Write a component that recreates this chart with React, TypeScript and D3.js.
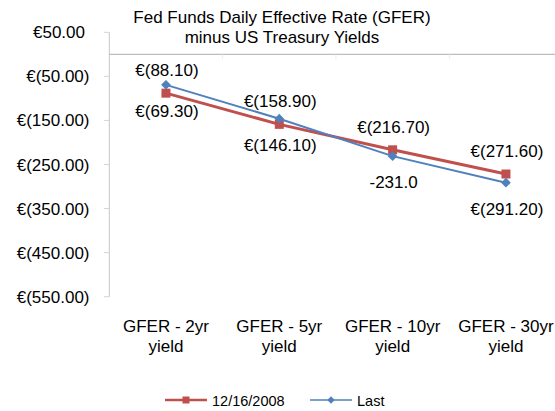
import React, { useRef, useEffect } from "react";
import * as d3 from "d3";

// Data
const categories = ["GFER - 2yr yield", "GFER - 5yr yield", "GFER - 10yr yield", "GFER - 30yr yield"];
const seriesNames = ["12/16/2008", "Last"];
const values1216 = [-88.1, -158.9, -216.7, -271.6];
const valuesLast = [-69.3, -146.1, -231.0, -291.2];
// the 10yr "Last" label uses a plain number format in the original
const lastPlainFormat = [false, false, true, false];
const yTicks = [50, -50, -150, -250, -350, -450, -550];
const titleLines = ["Fed Funds Daily Effective Rate (GFER)", "minus US Treasury Yields"];

const RED = "#c0504d";
const BLUE = "#4f81bd";
const FONT = "'Liberation Sans', Arial, sans-serif";

function acct(v: number) {
  return v >= 0 ? "€" + v.toFixed(2) : "€(" + Math.abs(v).toFixed(2) + ")";
}

function GferChart({ width, height }: { width: number; height: number }) {
  const svgRef = useRef<SVGSVGElement | null>(null);

  useEffect(() => {
    const svg = d3.select(svgRef.current);
    svg.selectAll("*").remove();

    const x = d3.scaleBand().domain(categories).range([109.3, 562.6]).padding(0);
    const y = d3.scaleLinear().domain([-550, 50]).range([296.7, 32.3]);
    const cx = (c: string) => (x(c) as number) + x.bandwidth() / 2;

    // Title
    svg
      .append("text")
      .attr("x", 282)
      .attr("font-family", FONT)
      .attr("font-size", 17)
      .attr("fill", "#000")
      .attr("text-anchor", "middle")
      .selectAll("tspan")
      .data(titleLines)
      .enter()
      .append("tspan")
      .attr("x", 282)
      .attr("y", (d, i) => 22.5 + i * 20)
      .text((d) => d);

    // Y axis
    const yAxis = svg.append("g");
    yAxis
      .append("line")
      .attr("x1", 109.3)
      .attr("x2", 109.3)
      .attr("y1", y(50))
      .attr("y2", y(-550))
      .attr("stroke", "#c6c6c6")
      .attr("stroke-width", 1);
    yAxis
      .selectAll("line.tick")
      .data(yTicks)
      .enter()
      .append("line")
      .attr("class", "tick")
      .attr("x1", 104)
      .attr("x2", 109.3)
      .attr("y1", (d) => y(d))
      .attr("y2", (d) => y(d))
      .attr("stroke", "#d4d4d4");
    yAxis
      .selectAll("text")
      .data(yTicks)
      .enter()
      .append("text")
      .attr("x", (d) => (d >= 0 ? 85 : 89.5))
      .attr("y", (d) => y(d) + 6)
      .attr("text-anchor", "end")
      .attr("font-family", FONT)
      .attr("font-size", 17)
      .attr("fill", "#000")
      .text((d) => acct(d));

    // Zero line (category axis)
    svg
      .append("line")
      .attr("x1", 109.3)
      .attr("x2", width)
      .attr("y1", y(0))
      .attr("y2", y(0))
      .attr("stroke", "#bdbdbd")
      .attr("stroke-width", 1.3);
    svg
      .selectAll("line.xtick")
      .data(categories.slice(1))
      .enter()
      .append("line")
      .attr("class", "xtick")
      .attr("x1", (d) => x(d) as number)
      .attr("x2", (d) => x(d) as number)
      .attr("y1", y(0))
      .attr("y2", y(0) + 5)
      .attr("stroke", "#ececec");

    // Category labels
    const catText = svg
      .selectAll("text.cat")
      .data(categories)
      .enter()
      .append("text")
      .attr("class", "cat")
      .attr("text-anchor", "middle")
      .attr("font-family", FONT)
      .attr("font-size", 17)
      .attr("fill", "#000");
    catText
      .append("tspan")
      .attr("x", (d) => cx(d))
      .attr("y", 331.5)
      .text((d) => d.replace(" yield", ""));
    catText
      .append("tspan")
      .attr("x", (d) => cx(d))
      .attr("y", 351.5)
      .text("yield");

    const line = d3
      .line<number>()
      .x((d, i) => cx(categories[i]))
      .y((d) => y(d));

    // 12/16/2008 series
    svg
      .append("path")
      .datum(values1216)
      .attr("fill", "none")
      .attr("stroke", RED)
      .attr("stroke-width", 3)
      .attr("d", line);
    svg
      .selectAll("rect.red")
      .data(values1216)
      .enter()
      .append("rect")
      .attr("class", "red")
      .attr("x", (d, i) => cx(categories[i]) - 4.5)
      .attr("y", (d) => y(d) - 4.5)
      .attr("width", 9)
      .attr("height", 9)
      .attr("fill", RED);

    // Last series
    const diamond = d3.symbol().type(d3.symbolDiamond2).size(60);
    svg
      .append("path")
      .datum(valuesLast)
      .attr("fill", "none")
      .attr("stroke", BLUE)
      .attr("stroke-width", 2)
      .attr("d", line);
    svg
      .selectAll("path.blue")
      .data(valuesLast)
      .enter()
      .append("path")
      .attr("class", "blue")
      .attr("d", diamond)
      .attr("transform", (d, i) => `translate(${cx(categories[i])},${y(d)})`)
      .attr("fill", BLUE);

    // Data labels: red above, blue below
    svg
      .selectAll("text.lab1")
      .data(values1216)
      .enter()
      .append("text")
      .attr("class", "lab1")
      .attr("x", (d, i) => cx(categories[i]) + 1)
      .attr("y", (d) => y(d) - 23 + 6)
      .attr("text-anchor", "middle")
      .attr("font-family", FONT)
      .attr("font-size", 17)
      .attr("fill", "#000")
      .text((d) => acct(d));
    svg
      .selectAll("text.lab2")
      .data(valuesLast)
      .enter()
      .append("text")
      .attr("class", "lab2")
      .attr("x", (d, i) => cx(categories[i]) + 1)
      .attr("y", (d) => y(d) + 26 + 6)
      .attr("text-anchor", "middle")
      .attr("font-family", FONT)
      .attr("font-size", 17)
      .attr("fill", "#000")
      .text((d, i) => (lastPlainFormat[i] ? d.toFixed(1) : acct(d)));

    // Legend
    const legendItems = [
      { name: seriesNames[0], color: RED, x: 165, w: 3, marker: "square" },
      { name: seriesNames[1], color: BLUE, x: 310, w: 2, marker: "diamond" },
    ];
    const lg = svg
      .selectAll("g.legend")
      .data(legendItems)
      .enter()
      .append("g")
      .attr("class", "legend")
      .attr("transform", (d) => `translate(${d.x},400)`);
    lg.append("line")
      .attr("x1", 0)
      .attr("x2", 42)
      .attr("y1", 0)
      .attr("y2", 0)
      .attr("stroke", (d) => d.color)
      .attr("stroke-width", (d) => d.w - 0.5);
    lg.append("path")
      .attr("d", (d) =>
        d.marker === "square"
          ? d3.symbol().type(d3.symbolSquare).size(49)()
          : d3.symbol().type(d3.symbolDiamond2).size(36)()
      )
      .attr("transform", "translate(21,0)")
      .attr("fill", (d) => d.color);
    lg.append("text")
      .attr("x", 47)
      .attr("y", 5.5)
      .attr("font-family", FONT)
      .attr("font-size", 14.5)
      .attr("fill", "#000")
      .text((d) => d.name);
  }, [width, height]);

  return (
    <svg
      ref={svgRef}
      width={width}
      height={height}
      style={{ position: "absolute", left: 0, top: 0, background: "#fff" }}
    ></svg>
  );
}

export default function App() {
  return <GferChart width={555} height={411} />;
}
